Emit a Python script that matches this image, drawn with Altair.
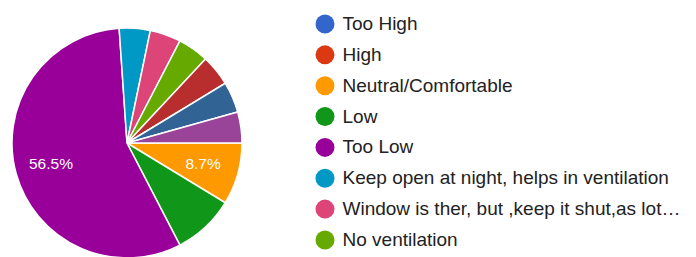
import math
import altair as alt
import pandas as pd

# Slices in clockwise order starting at 3 o'clock
slice_names = [
    "Neutral/Comfortable",
    "Low",
    "Too Low",
    "Keep open at night, helps in ventilation",
    "Window is ther, but ,keep it shut,as lot…",
    "No ventilation",
    "Other response 1",
    "Other response 2",
    "Other response 3",
]
slice_counts = [2, 2, 13, 1, 1, 1, 1, 1, 1]
# Which slices show a percentage label (as in the reference)
slice_show_label = [1, 0, 1, 0, 0, 0, 0, 0, 0]

legend_names = [
    "Too High",
    "High",
    "Neutral/Comfortable",
    "Low",
    "Too Low",
    "Keep open at night, helps in ventilation",
    "Window is ther, but ,keep it shut,as lot…",
    "No ventilation",
]
all_names = legend_names + ["Other response 1", "Other response 2", "Other response 3"]
all_colors = ["#3366cc", "#dc3912", "#ff9900", "#109618", "#990099", "#0099c6",
              "#dd4477", "#66aa00", "#b82e2e", "#316395", "#994499"]

df = pd.DataFrame({
    "name": slice_names,
    "value": slice_counts,
    "show": slice_show_label,
    "idx": list(range(len(slice_names))),
})

base = alt.Chart(df).encode(
    theta=alt.Theta("value:Q", stack=True,
                    scale=alt.Scale(range=[math.pi / 2, math.pi / 2 + 2 * math.pi])),
    order=alt.Order("idx:Q", sort="ascending"),
)

arcs = base.mark_arc(outerRadius=115, stroke="white", strokeWidth=1.5).encode(
    color=alt.Color(
        "name:N",
        scale=alt.Scale(domain=all_names, range=all_colors),
        sort=all_names,
        legend=alt.Legend(
            title=None,
            orient="none",
            legendX=303.5,
            legendY=-13.5,
            values=legend_names,
            symbolType="circle",
            symbolSize=361,
            symbolStrokeWidth=0,
            symbolOpacity=1,
            labelFont="Liberation Sans",
            labelFontSize=19,
            labelColor="#222222",
            labelOffset=8,
            labelLimit=420,
            rowPadding=10.85,
            padding=0,
        ),
    )
)

labels = base.transform_joinaggregate(total="sum(value)").transform_calculate(
    pct="datum.value / datum.total"
).mark_text(radius=79, font="Liberation Sans", fontSize=15.5, color="white").encode(
    text=alt.condition("datum.show == 1", alt.Text("pct:Q", format=".1%"), alt.value("")),
)

chart = alt.layer(arcs, labels).properties(
    width=230,
    height=230,
    autosize=alt.AutoSizeParams(type="none"),
    padding={"left": 4, "top": 20, "right": 446, "bottom": 0},
    background="white",
).configure_view(stroke=None)

chart.save("out.html", embed_options={"renderer": "svg", "actions": False})
